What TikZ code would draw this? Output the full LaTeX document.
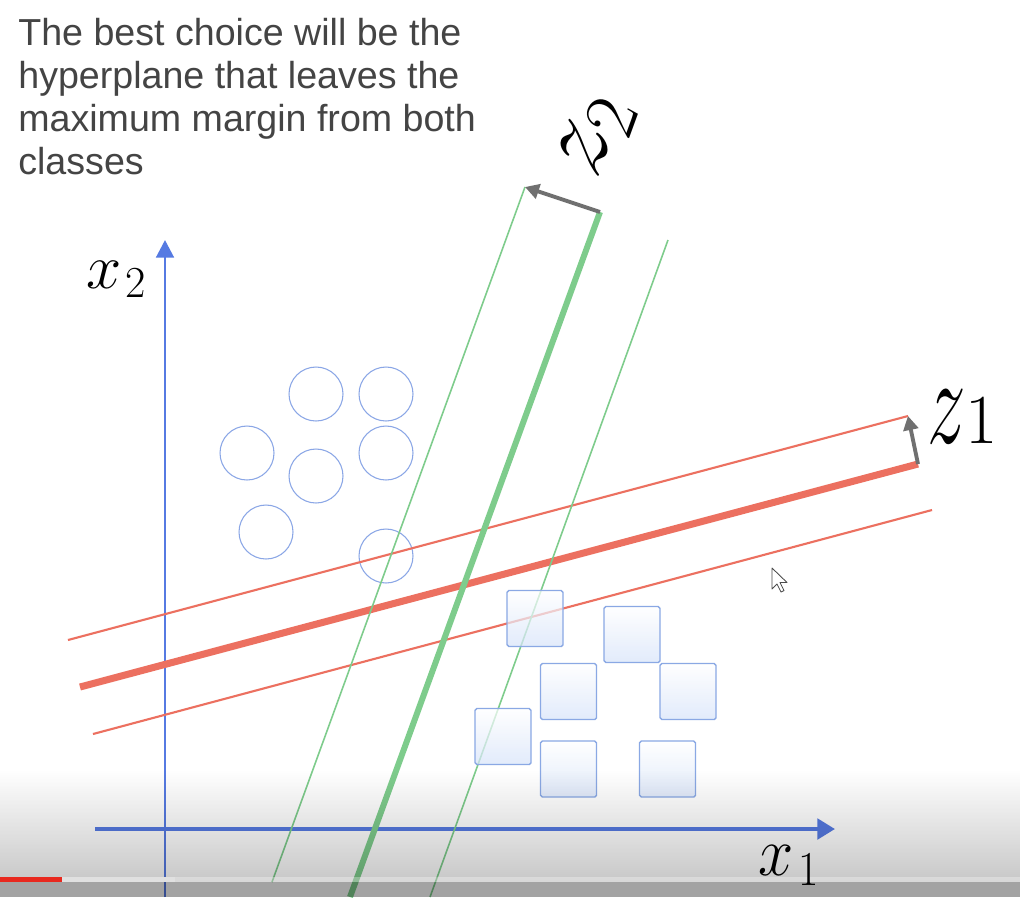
\RequirePackage{fix-cm}
\documentclass[tikz,border=0pt]{standalone}
\usepackage{fontspec}
\setmainfont{Liberation Sans}
\usetikzlibrary{arrows.meta,fadings}
\definecolor{axisblue}{RGB}{86,122,226}
\definecolor{redl}{RGB}{236,112,96}
\definecolor{greenl}{RGB}{126,204,140}
\definecolor{circblue}{RGB}{138,166,230}
\definecolor{sqblue}{RGB}{214,227,250}
\definecolor{sqedge}{RGB}{138,168,228}
\definecolor{txtgray}{RGB}{68,68,68}
\definecolor{arrgray}{RGB}{112,112,112}
\definecolor{ytred}{RGB}{232,40,30}
\tikzfading[name=fadedown, top color=transparent!100, middle color=transparent!80, bottom color=transparent!0]
\begin{document}
\begin{tikzpicture}[x=0.02cm,y=-0.02cm,
  txt/.style={font=\fontsize{21.4}{24}\selectfont, text=txtgray, inner sep=0pt, anchor=base west},
  mathlbl/.style={font=\fontsize{36}{36}\selectfont, inner sep=0pt, text=black},
  zlbl/.style={font=\fontsize{44}{44}\selectfont, inner sep=0pt, text=black},
  xaxis/.style={draw=axisblue, line width=2.4pt, -{Triangle[length=10pt,width=11.5pt]}},
  yaxis/.style={draw=axisblue, line width=1.7pt, -{Triangle[length=10pt,width=10pt]}},
  redthin/.style={draw=redl, line width=1.2pt},
  redthick/.style={draw=redl, line width=4pt},
  greenthin/.style={draw=greenl, line width=0.9pt},
  greenthick/.style={draw=greenl, line width=3.4pt},
  garrow/.style={draw=arrgray, line width=2.2pt, -{Triangle[length=8pt,width=8.5pt]}},
  circ/.style={circle, draw=circblue, line width=0.6pt, minimum size=1.08cm, inner sep=0pt},
  sq/.style={rectangle, draw=sqedge, line width=0.8pt, rounded corners=1pt, minimum size=1.12cm, inner sep=0pt, top color=white, bottom color=sqblue, fill opacity=0.7}
]
\useasboundingbox (0,0) rectangle (1020,897);
\fill[white] (0,0) rectangle (1020,897);

% title text
\node[txt] (t1) at (18,45) {The best choice will be the};
\node[txt] (t2) at (18,88) {hyperplane that leaves the};
\node[txt] (t3) at (18,131) {maximum margin from both};
\node[txt] (t4) at (18,174) {classes};

% axes
\coordinate (xo) at (95,829); \coordinate (xe) at (835,829);
\coordinate (yo) at (165,897); \coordinate (ye) at (165,240);
\draw[yaxis] (yo) -- (ye);
\draw[xaxis] (xo) -- (xe);
\node[mathlbl, anchor=base west] (lx2) at (86,288) {$x_{\mkern1.5mu 2}$};

% circles
\node[circ] (c1) at (316,394) {};
\node[circ] (c2) at (386,394) {};
\node[circ] (c3) at (247,453) {};
\node[circ] (c4) at (386,453) {};
\node[circ] (c5) at (316,476) {};
\node[circ] (c6) at (266,532) {};
\node[circ] (c7) at (386,556) {};

% red lines
\coordinate (ru1) at (68,640); \coordinate (ru2) at (908,416);
\coordinate (rc1) at (80,687); \coordinate (rc2) at (918,464);
\coordinate (rl1) at (93,734); \coordinate (rl2) at (932,510);
\draw[redthin] (ru1) -- (ru2);
\draw[redthin] (rl1) -- (rl2);
\draw[redthick] (rc1) -- (rc2);

% green lines
\coordinate (gl1) at (525,187); \coordinate (gl2) at (272,882);
\coordinate (gc1) at (600,212); \coordinate (gc2) at (350,897);
\coordinate (gr1) at (668,240); \coordinate (gr2) at (430,897);
\draw[greenthin] (gl1) -- (gl2);
\draw[greenthin] (gr1) -- (gr2);
\draw[greenthick] (gc1) -- (gc2);

% squares
\node[sq] (s1) at (535,618.5) {};
\node[sq] (s2) at (632,634.5) {};
\node[sq] (s3) at (568.5,691.5) {};
\node[sq] (s4) at (688,691.5) {};
\node[sq] (s5) at (503,736.5) {};
\node[sq] (s6) at (568.5,769) {};
\node[sq] (s7) at (667.5,769) {};

% margin arrows and labels
\draw[garrow] (rc2) -- (ru2);
\draw[garrow] (gc1) -- (gl1);
\node[zlbl, anchor=base west] (lz1) at (927,443) {\scalebox{1}[1.6]{$z$}{\fontsize{40}{40}\selectfont$1$}};
\node[font=\fontsize{60}{60}\selectfont, inner sep=0pt, rotate=70] (lz2) at (597,137) {$z_2$};

% mouse pointer
\draw[black!70, fill=white, line width=0.5pt, line join=round]
  (772,568) -- (772,589) -- (777,584) -- (781,592) -- (784,590.5) -- (780,582.5) -- (787,582.5) -- cycle;

% bottom player overlay
\fill[black, opacity=0.22, path fading=fadedown] (0,770) rectangle (1020,882);
\fill[black, opacity=0.36] (0,882) rectangle (1020,897);
\fill[white, opacity=0.3] (175,877) rectangle (1020,882);
\fill[black!12] (62,877) rectangle (175,882);
\fill[ytred] (0,877) rectangle (62,882);

\node[mathlbl, anchor=base west] (lx1) at (758,875) {\scalebox{1}[1.1]{$x_{\mkern2mu 1}$}};
\end{tikzpicture}
\end{document}
